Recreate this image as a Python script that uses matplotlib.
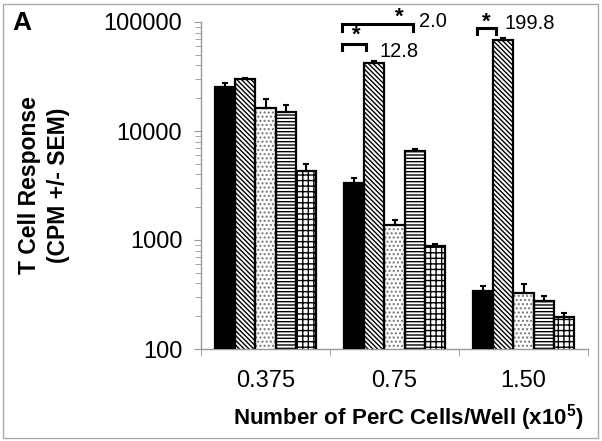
import matplotlib
matplotlib.use("Agg")
import matplotlib.pyplot as plt
import numpy as np
from matplotlib.patches import Rectangle
from matplotlib.ticker import LogLocator, NullFormatter, FixedLocator

plt.rcParams['font.family'] = ['Liberation Sans', 'DejaVu Sans']

categories = ["0.375", "0.75", "1.50"]
black_vals = [25500, 3310, 340]
black_err = [1900, 370, 38]
diag_vals = [30000, 42300, 68400]
diag_err = [900, 1500, 2200]
dot_vals = [16400, 1370, 329]
dot_err = [3100, 155, 64]
horiz_vals = [15000, 6600, 277]
horiz_err = [2400, 200, 29]
grid_vals = [4330, 887, 195]
grid_err = [610, 31, 17]

series = [
    (black_vals, black_err, dict(hatch=None)),
    (diag_vals, diag_err, dict(hatch='\\' * 7)),
    (dot_vals, dot_err, dict(hatch='....', hc='#777777')),
    (horiz_vals, horiz_err, dict(hatch='-' * 5)),
    (grid_vals, grid_err, dict(hatch='+++')),
]

fig = plt.figure(figsize=(6.02, 4.41), dpi=100)
ax = fig.add_axes([201/602, 92/441, (588-201)/602, (349-22)/441])

x = np.arange(len(categories))
w = 20/128
for i, (vals, errs, st) in enumerate(series):
    pos = x - 2*w + i*w
    hc = st.get('hc', 'black')
    if st['hatch']:
        ax.bar(pos, vals, width=w, color='white', edgecolor=hc, hatch=st['hatch'], linewidth=0, zorder=2)
        ax.bar(pos, vals, width=w, fill=False, edgecolor='black', linewidth=1.6, zorder=3)
    else:
        ax.bar(pos, vals, width=w, color='black', edgecolor='black', linewidth=1.6, zorder=3)
    ax.errorbar(pos, vals, yerr=[np.zeros(len(errs)), errs], fmt='none', ecolor='black',
                elinewidth=1.5, capsize=2.5, capthick=1.5, zorder=4)

ax.set_yscale('log')
ax.set_ylim(100, 100000)
ax.set_xlim(-0.5, 2.5)
ax.set_yticks([100, 1000, 10000, 100000])
ax.set_yticklabels(["100", "1000", "10000", "100000"])
ax.yaxis.set_minor_locator(LogLocator(base=10, subs=np.arange(2, 10)))
ax.yaxis.set_minor_formatter(NullFormatter())
ax.tick_params(axis='y', which='major', length=5, color='#999999', labelsize=17, pad=8.5)
ax.tick_params(axis='y', which='minor', length=4, color='#999999')
ax.set_xticks(x)
ax.set_xticklabels(categories)
ax.xaxis.set_minor_locator(FixedLocator([-0.5, 0.5, 1.5, 2.5]))
ax.tick_params(axis='x', which='major', length=0, labelsize=17, pad=15)
ax.tick_params(axis='x', which='minor', length=5, color='#999999')
for s in ['top', 'right']:
    ax.spines[s].set_visible(False)
for s in ['left', 'bottom']:
    ax.spines[s].set_color('#999999')
    ax.spines[s].set_linewidth(1.0)

fig.text(44/602, 1 - 185/441, "T Cell Response\n(CPM +/- SEM)", rotation=90,
         ha='center', va='center', fontsize=16.5, fontweight='bold', linespacing=1.3,
         multialignment='center')
ax.set_xlabel(r"Number of PerC Cells/Well (x$\mathregular{10^5}$)", fontsize=16.1, fontweight='bold')
ax.xaxis.set_label_coords((409 - 201) / 387, (349 - 402) / 327)

# significance brackets
def bracket(x0, x1, ytop, legs):
    ax.plot([x0, x0, x1, x1], [ytop / legs, ytop, ytop, ytop / legs], color='black', lw=2.2,
            clip_on=False, zorder=5, solid_joinstyle='miter')

def star(xc, yb):
    ax.text(xc, yb, "*", ha='center', va='baseline', fontsize=16, fontweight='bold')

def label(xl, yb, s):
    ax.text(xl, yb, s, ha='left', va='baseline', fontsize=14.5)

bracket(0.59, 0.78, 62800, 1.135)
star(0.70, 66900)
label(0.88, 47700, "12.8")

bracket(0.59, 1.14, 95900, 1.17)
star(1.04, 97500)
label(1.19, 90000, "2.0")

bracket(1.64, 1.79, 88100, 1.135)
star(1.715, 89000)
label(1.85, 87000, "199.8")

fig.text(12/602, 1 - 23/441, "A", fontsize=19, fontweight='bold', ha='left', va='center')
fig.patches.append(Rectangle((3/602, 3/441), 595/602, 434/441, transform=fig.transFigure,
                             fill=False, edgecolor='#aaaaaa', lw=1))

fig.savefig("out.png", dpi=100)
